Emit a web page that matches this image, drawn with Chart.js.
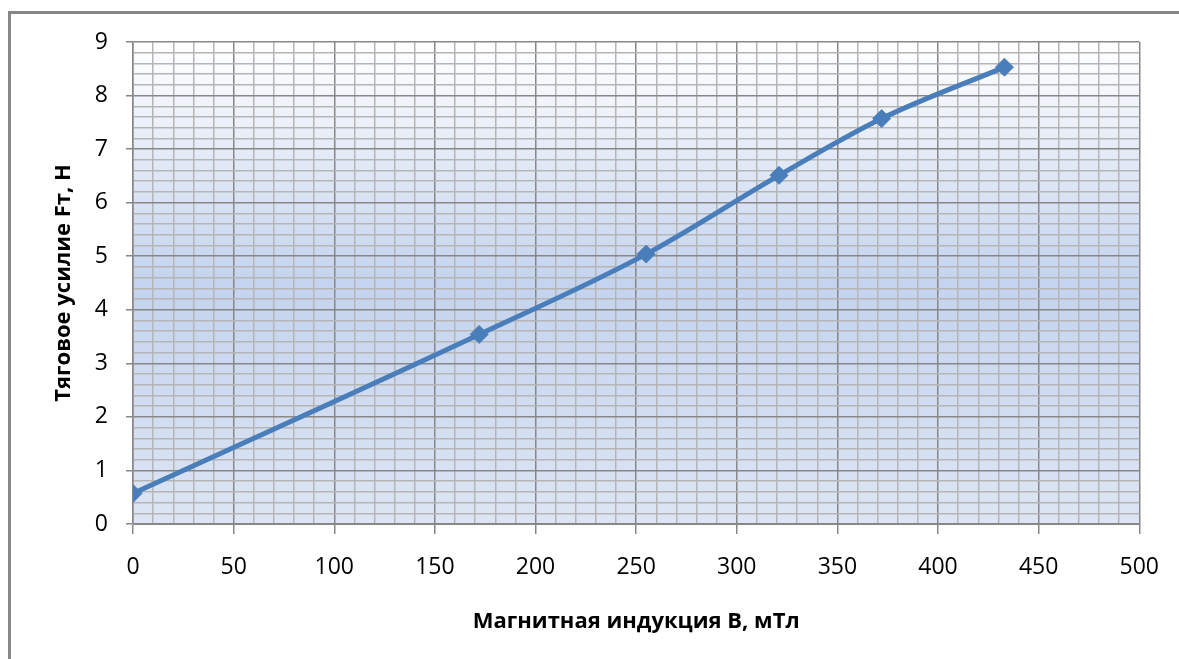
<!DOCTYPE html>
<html>
<head>
<meta charset="utf-8">
<script src="https://cdn.jsdelivr.net/npm/chart.js@4.4.1/dist/chart.umd.min.js"></script>
<style>
  html, body { margin: 0; padding: 0; background: #fff; overflow: hidden; }
  #frame { position: absolute; left: 8px; top: 11px; width: 1300px; height: 800px;
           border-left: 3px solid #878787; border-top: 3px solid #878787; }
  #chart { position: absolute; left: 0; top: 0; }
</style>
</head>
<body>
<div id="frame"></div>
<canvas id="chart" width="1179" height="659"></canvas>
<script>
// данные графика
const inductionB = [0, 172, 255, 321, 372, 433];      // мТл
const tractionF  = [0.57, 3.54, 5.04, 6.51, 7.57, 8.53]; // Н

const xTitle = 'Магнитная индукция B, мТл';
const yTitle = 'Тяговое усилие Fт, Н';

const majorGrid = '#878787';
const minorGrid = '#b5b5b5';

// фон области построения (градиент как в Excel)
const plotBg = {
  id: 'plotBg',
  beforeDraw(chart) {
    const { ctx, chartArea: a } = chart;
    const g = ctx.createLinearGradient(0, a.top, 0, a.bottom);
    g.addColorStop(0, '#ffffff');
    g.addColorStop(0.5, '#c4d3ee');
    g.addColorStop(1, '#dde5f4');
    ctx.save();
    ctx.fillStyle = g;
    ctx.fillRect(a.left, a.top, a.right - a.left, a.bottom - a.top);
    ctx.restore();
  }
};

const isMajorX = v => Math.abs(v % 50) < 1e-6;
const isMajorY = v => Math.abs(v - Math.round(v)) < 1e-6;

new Chart(document.getElementById('chart'), {
  type: 'scatter',
  data: {
    datasets: [{
      data: inductionB.map((x, i) => ({ x, y: tractionF[i] })),
      showLine: true,
      borderColor: '#4a7ebb',
      backgroundColor: '#4a7ebb',
      borderWidth: 5,
      pointStyle: 'rectRot',
      pointRadius: 9,
      pointBorderWidth: 1,
      cubicInterpolationMode: 'monotone'
    }]
  },
  options: {
    responsive: false,
    animation: false,
    layout: { padding: { left: 40, top: 42, right: 37, bottom: 0 } },
    plugins: { legend: { display: false }, tooltip: { enabled: false } },
    scales: {
      x: {
        type: 'linear', min: 0, max: 500,
        afterFit: s => { s.height = 135; },
        border: { color: majorGrid, width: 1 },
        grid: {
          color: c => isMajorX(c.tick.value) ? majorGrid : minorGrid,
          lineWidth: 1.5,
          tickLength: 10,
          tickColor: c => isMajorX(c.tick.value) ? majorGrid : 'rgba(0,0,0,0)'
        },
        ticks: {
          stepSize: 10, autoSkip: false, maxRotation: 0,
          color: '#000', padding: 20,
          font: { family: 'Open Sans', size: 23 },
          callback: v => isMajorX(v) ? String(v) : ''
        },
        title: {
          display: true, text: xTitle, color: '#000',
          font: { family: 'Open Sans', size: 22, weight: 'bold' },
          padding: { top: 0, bottom: 24 }
        }
      },
      y: {
        type: 'linear', min: 0, max: 9,
        afterFit: s => { s.width = 93; },
        border: { color: majorGrid, width: 1.5 },
        grid: {
          color: c => isMajorY(c.tick.value) ? majorGrid : minorGrid,
          lineWidth: 1.5,
          tickLength: 7,
          tickColor: c => isMajorY(c.tick.value) ? majorGrid : 'rgba(0,0,0,0)'
        },
        ticks: {
          stepSize: 0.2, autoSkip: false,
          color: '#000', padding: 18,
          font: { family: 'Open Sans', size: 23 },
          callback: v => isMajorY(v) ? String(Math.round(v)) : ''
        },
        title: {
          display: true, text: yTitle, color: '#000',
          font: { family: 'Open Sans', size: 22, weight: 'bold' },
          padding: { top: 11, bottom: 0 }
        }
      }
    }
  },
  plugins: [plotBg]
});
</script>
</body>
</html>
